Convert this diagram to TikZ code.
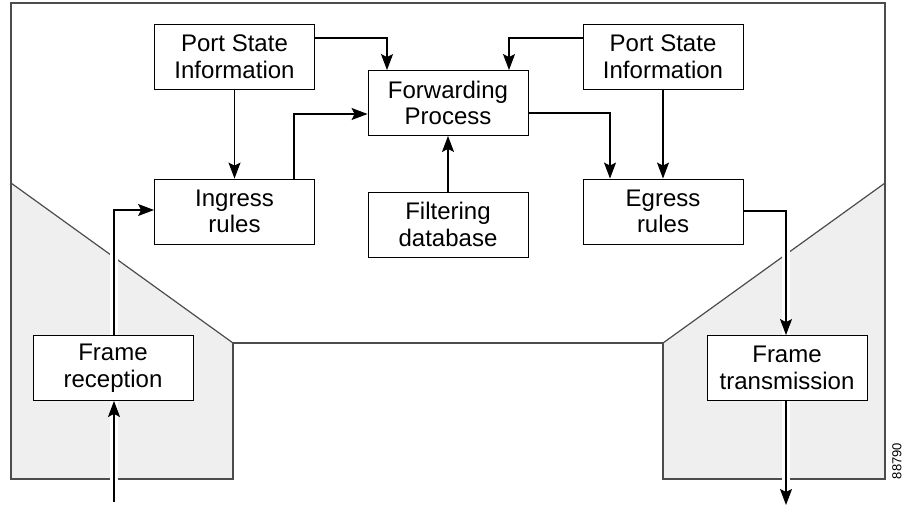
\documentclass[tikz,border=0pt]{standalone}
\usepackage{fontspec}
\setmainfont{Liberation Sans}
\usetikzlibrary{arrows.meta}

\definecolor{bggray}{HTML}{EFEFEF}

\begin{document}
\begin{tikzpicture}[x=1pt,y=-1pt,
  block/.style={draw,fill=white,line width=0.9pt,minimum width=160pt,minimum height=65pt,
    inner sep=0pt,align=center,font=\fontsize{24}{26.5}\selectfont},
  link/.style={line width=1.2pt,-{Stealth[length=16pt,width=12pt,inset=3pt]}},
  halo/.style={draw=white,line width=8pt},
  frame/.style={draw=black!70,line width=1.2pt}]

\useasboundingbox (0,0) rectangle (904,506);

% outline of the switch with the two port areas
\coordinate (tl) at (11,3);
\coordinate (tr) at (885,3);
\coordinate (ml) at (11,183);
\coordinate (mr) at (885,183);
\coordinate (kl) at (233,343);
\coordinate (kr) at (663,343);
\coordinate (bl) at (11,479);
\coordinate (br) at (885,479);
\coordinate (kbl) at (233,479);
\coordinate (kbr) at (663,479);

\fill[bggray] (ml) -- (kl) -- (kbl) -- (bl) -- cycle;
\fill[bggray] (mr) -- (kr) -- (kbr) -- (br) -- cycle;
\draw[frame] (kbl) -- (bl) -- (tl) -- (tr) -- (br) -- (kbr) -- (kr) -- (kl) -- cycle;
\draw[frame] (ml) -- (kl);
\draw[frame] (mr) -- (kr);

% blocks
\node[block] (psiL) at (234.5,56.5) {Port State\\Information};
\node[block] (fwd) at (448,103) {Forwarding\\Process};
\node[block] (ing) at (234.5,211.5) {Ingress\\rules};
\node[block] (filt) at (448,224.5) {Filtering\\database};
\node[block] (psiR) at (663,56.5) {Port State\\Information};
\node[block] (egr) at (663,211.5) {Egress\\rules};
\node[block] (rx) at (113,368) {Frame\\reception};
\node[block] (tx) at (787,368) {Frame\\transmission};

% bends of the connectors
\coordinate (jA) at (387,38);
\coordinate (jB) at (294,114);
\coordinate (jC) at (114,210);
\coordinate (jD) at (509,38);
\coordinate (jE) at (610,113);
\coordinate (jF) at (786,211);
\coordinate (inp) at (114,502);
\coordinate (outp) at (786,505);

% white gaps where lines cross the port areas
\draw[halo] (inp) -- (rx.south -| inp);
\draw[halo] (rx.north -| jC) -- (jC);
\draw[halo] (jF) -- (tx.north -| jF);
\draw[halo] (tx.south -| outp) -- ([yshift=8pt]outp);

\draw[link] (psiL.east |- jA) -| (fwd.north -| jA);
\draw[link] (psiL) -- (ing);
\draw[link] (ing.north -| jB) |- (fwd.west |- jB);
\draw[link] (rx.north -| jC) |- (ing.west |- jC);
\draw[link] (inp) -- (rx.south -| inp);
\draw[link] (filt) -- (fwd);
\draw[link] (psiR.west |- jD) -| (fwd.north -| jD);
\draw[link] (fwd.east |- jE) -| (egr.north -| jE);
\draw[link] (psiR) -- (egr);
\draw[link] (egr.east |- jF) -| (tx.north -| jF);
\draw[link] (tx.south -| outp) -- (outp);

\node[rotate=90,font=\fontsize{13}{13}\selectfont,inner sep=0pt] (fig) at (897,461) {88790};

\end{tikzpicture}
\end{document}
